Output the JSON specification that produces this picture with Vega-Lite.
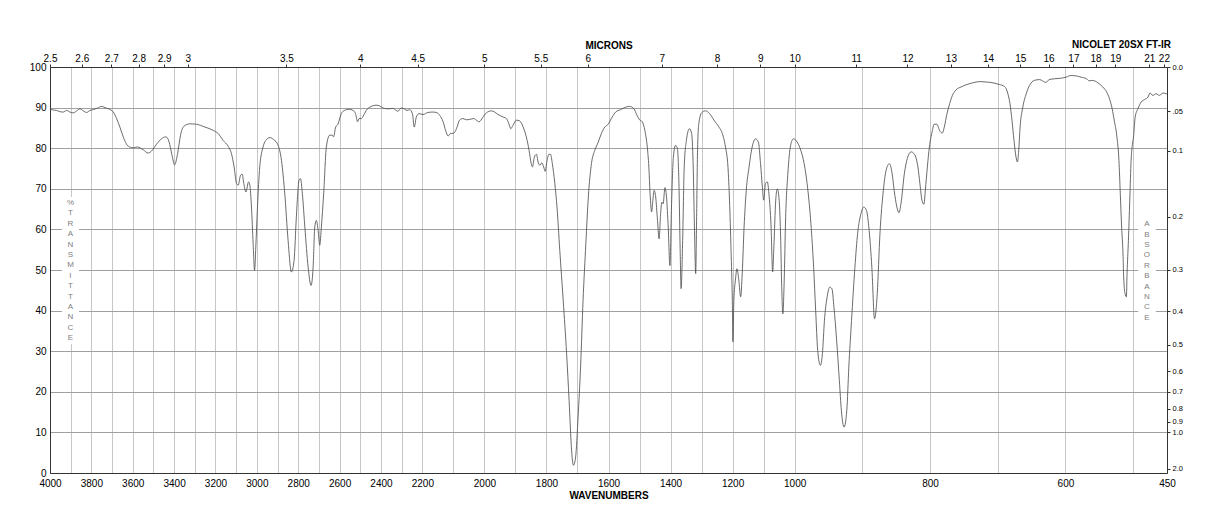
{
  "$schema": "https://vega.github.io/schema/vega-lite/v6.json",
  "width": 1117,
  "height": 406,
  "autosize": {"type": "none"},
  "padding": {"left": 50, "top": 67, "right": 51, "bottom": 55},
  "background": "white",
  "title": {"text": "NICOLET 20SX FT-IR", "anchor": "end", "frame": "group", "fontSize": 10, "fontWeight": "bold", "font": "Liberation Sans", "color": "#000", "offset": 0, "dy": 10, "dx": 4},
  "config": {"view": {"stroke": null}, "font": "Liberation Sans"},
  "datasets": {
    "spectrum": [
      {"wn": 4000, "t": 89.6}, {"wn": 3984, "t": 89.4}, {"wn": 3968, "t": 89.3}, {"wn": 3952, "t": 89.0}, {"wn": 3936, "t": 88.9}, {"wn": 3920, "t": 89.3}, {"wn": 3904, "t": 88.9}, {"wn": 3887, "t": 88.7}, {"wn": 3871, "t": 89.2}, {"wn": 3855, "t": 89.7}, {"wn": 3839, "t": 89.2}, {"wn": 3823, "t": 88.8}, {"wn": 3807, "t": 89.3}, {"wn": 3791, "t": 89.5}, {"wn": 3770, "t": 89.9}, {"wn": 3750, "t": 90.3}, {"wn": 3734, "t": 90.0}, {"wn": 3718, "t": 89.7}, {"wn": 3694, "t": 88.9}, {"wn": 3678, "t": 87.3}, {"wn": 3662, "t": 85.2}, {"wn": 3646, "t": 82.8}, {"wn": 3622, "t": 80.5}, {"wn": 3598, "t": 80.1}, {"wn": 3578, "t": 80.3}, {"wn": 3549, "t": 79.6}, {"wn": 3525, "t": 78.8}, {"wn": 3509, "t": 79.3}, {"wn": 3485, "t": 81.0}, {"wn": 3461, "t": 82.3}, {"wn": 3440, "t": 82.8}, {"wn": 3424, "t": 81.5}, {"wn": 3411, "t": 78.5}, {"wn": 3398, "t": 75.9}, {"wn": 3383, "t": 78.7}, {"wn": 3369, "t": 83.2}, {"wn": 3353, "t": 85.4}, {"wn": 3324, "t": 86.0}, {"wn": 3292, "t": 85.9}, {"wn": 3251, "t": 85.2}, {"wn": 3211, "t": 84.4}, {"wn": 3187, "t": 83.6}, {"wn": 3163, "t": 81.9}, {"wn": 3139, "t": 80.5}, {"wn": 3123, "t": 78.7}, {"wn": 3110, "t": 75.4}, {"wn": 3098, "t": 71.3}, {"wn": 3090, "t": 70.9}, {"wn": 3079, "t": 73.3}, {"wn": 3071, "t": 73.6}, {"wn": 3063, "t": 71.3}, {"wn": 3053, "t": 69.2}, {"wn": 3040, "t": 71.7}, {"wn": 3034, "t": 70.9}, {"wn": 3026, "t": 65.5}, {"wn": 3018, "t": 56.5}, {"wn": 3011, "t": 49.9}, {"wn": 3005, "t": 55.7}, {"wn": 2997, "t": 65.5}, {"wn": 2986, "t": 75.4}, {"wn": 2970, "t": 80.3}, {"wn": 2954, "t": 82.1}, {"wn": 2937, "t": 82.6}, {"wn": 2918, "t": 82.1}, {"wn": 2897, "t": 80.7}, {"wn": 2881, "t": 77.0}, {"wn": 2865, "t": 68.8}, {"wn": 2849, "t": 57.3}, {"wn": 2833, "t": 49.5}, {"wn": 2820, "t": 52.4}, {"wn": 2809, "t": 63.1}, {"wn": 2796, "t": 72.1}, {"wn": 2789, "t": 72.5}, {"wn": 2780, "t": 68.8}, {"wn": 2768, "t": 60.6}, {"wn": 2752, "t": 50.7}, {"wn": 2738, "t": 46.2}, {"wn": 2728, "t": 50.7}, {"wn": 2720, "t": 60.6}, {"wn": 2712, "t": 62.2}, {"wn": 2704, "t": 59.8}, {"wn": 2696, "t": 56.1}, {"wn": 2688, "t": 60.6}, {"wn": 2677, "t": 68.8}, {"wn": 2664, "t": 80.3}, {"wn": 2648, "t": 83.2}, {"wn": 2635, "t": 83.2}, {"wn": 2629, "t": 82.8}, {"wn": 2619, "t": 85.2}, {"wn": 2608, "t": 85.9}, {"wn": 2592, "t": 88.5}, {"wn": 2576, "t": 89.3}, {"wn": 2555, "t": 89.6}, {"wn": 2535, "t": 89.3}, {"wn": 2523, "t": 88.5}, {"wn": 2513, "t": 86.5}, {"wn": 2506, "t": 87.3}, {"wn": 2495, "t": 87.3}, {"wn": 2487, "t": 87.8}, {"wn": 2471, "t": 89.3}, {"wn": 2447, "t": 90.3}, {"wn": 2423, "t": 90.6}, {"wn": 2406, "t": 90.4}, {"wn": 2390, "t": 89.9}, {"wn": 2366, "t": 89.7}, {"wn": 2342, "t": 89.8}, {"wn": 2326, "t": 89.3}, {"wn": 2318, "t": 89.1}, {"wn": 2302, "t": 89.9}, {"wn": 2285, "t": 89.6}, {"wn": 2274, "t": 89.3}, {"wn": 2261, "t": 89.5}, {"wn": 2248, "t": 88.5}, {"wn": 2239, "t": 85.2}, {"wn": 2229, "t": 87.7}, {"wn": 2216, "t": 88.5}, {"wn": 2198, "t": 88.3}, {"wn": 2182, "t": 88.8}, {"wn": 2166, "t": 88.9}, {"wn": 2155, "t": 88.8}, {"wn": 2144, "t": 88.1}, {"wn": 2133, "t": 86.5}, {"wn": 2125, "t": 84.4}, {"wn": 2117, "t": 83.0}, {"wn": 2110, "t": 83.6}, {"wn": 2099, "t": 83.7}, {"wn": 2090, "t": 84.8}, {"wn": 2080, "t": 86.9}, {"wn": 2069, "t": 87.3}, {"wn": 2058, "t": 87.0}, {"wn": 2047, "t": 87.1}, {"wn": 2034, "t": 87.3}, {"wn": 2026, "t": 86.9}, {"wn": 2017, "t": 86.5}, {"wn": 2006, "t": 87.5}, {"wn": 1994, "t": 88.7}, {"wn": 1977, "t": 89.2}, {"wn": 1967, "t": 88.9}, {"wn": 1956, "t": 88.3}, {"wn": 1940, "t": 87.7}, {"wn": 1929, "t": 87.3}, {"wn": 1921, "t": 86.0}, {"wn": 1915, "t": 84.8}, {"wn": 1908, "t": 85.6}, {"wn": 1897, "t": 86.9}, {"wn": 1886, "t": 86.7}, {"wn": 1875, "t": 85.2}, {"wn": 1865, "t": 82.8}, {"wn": 1856, "t": 79.5}, {"wn": 1849, "t": 76.2}, {"wn": 1845, "t": 75.4}, {"wn": 1839, "t": 77.8}, {"wn": 1832, "t": 78.5}, {"wn": 1827, "t": 76.6}, {"wn": 1821, "t": 75.8}, {"wn": 1815, "t": 76.4}, {"wn": 1809, "t": 75.4}, {"wn": 1804, "t": 74.3}, {"wn": 1798, "t": 77.0}, {"wn": 1792, "t": 78.5}, {"wn": 1787, "t": 78.5}, {"wn": 1781, "t": 76.2}, {"wn": 1773, "t": 71.3}, {"wn": 1766, "t": 65.5}, {"wn": 1757, "t": 54.8}, {"wn": 1746, "t": 42.5}, {"wn": 1735, "t": 29.4}, {"wn": 1727, "t": 17.9}, {"wn": 1719, "t": 5.6}, {"wn": 1713, "t": 1.9}, {"wn": 1706, "t": 3.9}, {"wn": 1698, "t": 13.8}, {"wn": 1690, "t": 26.1}, {"wn": 1682, "t": 42.5}, {"wn": 1673, "t": 56.5}, {"wn": 1665, "t": 68.0}, {"wn": 1655, "t": 76.2}, {"wn": 1644, "t": 79.5}, {"wn": 1633, "t": 81.5}, {"wn": 1623, "t": 83.6}, {"wn": 1612, "t": 85.2}, {"wn": 1601, "t": 85.9}, {"wn": 1588, "t": 87.7}, {"wn": 1577, "t": 88.9}, {"wn": 1561, "t": 89.5}, {"wn": 1545, "t": 90.1}, {"wn": 1532, "t": 90.3}, {"wn": 1518, "t": 89.7}, {"wn": 1508, "t": 88.1}, {"wn": 1500, "t": 87.0}, {"wn": 1491, "t": 86.5}, {"wn": 1483, "t": 84.4}, {"wn": 1475, "t": 80.3}, {"wn": 1470, "t": 75.4}, {"wn": 1466, "t": 68.8}, {"wn": 1461, "t": 64.3}, {"wn": 1457, "t": 67.2}, {"wn": 1453, "t": 69.6}, {"wn": 1448, "t": 68.0}, {"wn": 1442, "t": 62.2}, {"wn": 1437, "t": 57.7}, {"wn": 1432, "t": 63.9}, {"wn": 1428, "t": 66.7}, {"wn": 1424, "t": 66.3}, {"wn": 1418, "t": 70.3}, {"wn": 1414, "t": 68.8}, {"wn": 1408, "t": 61.4}, {"wn": 1402, "t": 51.1}, {"wn": 1397, "t": 65.5}, {"wn": 1391, "t": 77.8}, {"wn": 1384, "t": 80.7}, {"wn": 1378, "t": 79.9}, {"wn": 1373, "t": 71.3}, {"wn": 1369, "t": 54.8}, {"wn": 1366, "t": 45.4}, {"wn": 1361, "t": 57.3}, {"wn": 1356, "t": 75.4}, {"wn": 1349, "t": 81.9}, {"wn": 1339, "t": 84.8}, {"wn": 1332, "t": 83.6}, {"wn": 1327, "t": 75.4}, {"wn": 1323, "t": 60.6}, {"wn": 1319, "t": 49.1}, {"wn": 1316, "t": 63.1}, {"wn": 1313, "t": 79.5}, {"wn": 1309, "t": 86.0}, {"wn": 1300, "t": 88.7}, {"wn": 1287, "t": 89.2}, {"wn": 1274, "t": 88.5}, {"wn": 1260, "t": 86.9}, {"wn": 1244, "t": 85.2}, {"wn": 1233, "t": 83.6}, {"wn": 1223, "t": 80.3}, {"wn": 1215, "t": 75.4}, {"wn": 1210, "t": 67.2}, {"wn": 1205, "t": 54.8}, {"wn": 1201, "t": 42.5}, {"wn": 1199, "t": 32.3}, {"wn": 1196, "t": 42.5}, {"wn": 1191, "t": 47.5}, {"wn": 1186, "t": 50.3}, {"wn": 1180, "t": 47.5}, {"wn": 1174, "t": 43.4}, {"wn": 1169, "t": 49.1}, {"wn": 1163, "t": 60.6}, {"wn": 1156, "t": 69.6}, {"wn": 1147, "t": 75.4}, {"wn": 1137, "t": 80.3}, {"wn": 1126, "t": 82.3}, {"wn": 1117, "t": 81.5}, {"wn": 1110, "t": 76.2}, {"wn": 1104, "t": 70.4}, {"wn": 1100, "t": 67.2}, {"wn": 1094, "t": 71.3}, {"wn": 1088, "t": 71.7}, {"wn": 1083, "t": 68.8}, {"wn": 1076, "t": 60.6}, {"wn": 1071, "t": 49.5}, {"wn": 1067, "t": 55.7}, {"wn": 1061, "t": 67.2}, {"wn": 1056, "t": 70.0}, {"wn": 1050, "t": 67.2}, {"wn": 1045, "t": 57.3}, {"wn": 1042, "t": 46.6}, {"wn": 1038, "t": 39.2}, {"wn": 1034, "t": 46.6}, {"wn": 1029, "t": 63.1}, {"wn": 1022, "t": 73.7}, {"wn": 1013, "t": 80.7}, {"wn": 1004, "t": 82.3}, {"wn": 998, "t": 81.9}, {"wn": 991, "t": 79.5}, {"wn": 986, "t": 76.2}, {"wn": 981, "t": 70.4}, {"wn": 976, "t": 61.4}, {"wn": 972, "t": 50.7}, {"wn": 969, "t": 40.1}, {"wn": 966, "t": 30.2}, {"wn": 962, "t": 26.5}, {"wn": 959, "t": 29.4}, {"wn": 956, "t": 37.6}, {"wn": 952, "t": 43.4}, {"wn": 948, "t": 45.8}, {"wn": 945, "t": 45.4}, {"wn": 942, "t": 40.9}, {"wn": 938, "t": 32.7}, {"wn": 934, "t": 22.8}, {"wn": 931, "t": 15.4}, {"wn": 927, "t": 11.3}, {"wn": 923, "t": 15.4}, {"wn": 920, "t": 26.1}, {"wn": 916, "t": 37.6}, {"wn": 911, "t": 50.7}, {"wn": 907, "t": 59.0}, {"wn": 902, "t": 63.9}, {"wn": 898, "t": 65.5}, {"wn": 894, "t": 64.7}, {"wn": 890, "t": 59.8}, {"wn": 886, "t": 50.7}, {"wn": 882, "t": 38.0}, {"wn": 878, "t": 44.2}, {"wn": 874, "t": 59.0}, {"wn": 869, "t": 69.6}, {"wn": 865, "t": 74.5}, {"wn": 860, "t": 76.2}, {"wn": 856, "t": 73.7}, {"wn": 853, "t": 69.6}, {"wn": 849, "t": 65.5}, {"wn": 846, "t": 64.1}, {"wn": 843, "t": 66.3}, {"wn": 838, "t": 73.7}, {"wn": 833, "t": 77.8}, {"wn": 828, "t": 79.1}, {"wn": 823, "t": 78.5}, {"wn": 818, "t": 75.4}, {"wn": 815, "t": 71.3}, {"wn": 812, "t": 67.2}, {"wn": 809, "t": 66.2}, {"wn": 807, "t": 69.6}, {"wn": 804, "t": 75.4}, {"wn": 801, "t": 80.3}, {"wn": 797, "t": 84.0}, {"wn": 794, "t": 85.9}, {"wn": 790, "t": 85.9}, {"wn": 786, "t": 84.4}, {"wn": 782, "t": 83.7}, {"wn": 779, "t": 85.2}, {"wn": 775, "t": 88.5}, {"wn": 771, "t": 91.0}, {"wn": 767, "t": 93.0}, {"wn": 762, "t": 94.3}, {"wn": 754, "t": 95.1}, {"wn": 747, "t": 95.6}, {"wn": 737, "t": 96.1}, {"wn": 727, "t": 96.4}, {"wn": 717, "t": 96.3}, {"wn": 707, "t": 96.1}, {"wn": 698, "t": 95.7}, {"wn": 690, "t": 95.2}, {"wn": 685, "t": 93.4}, {"wn": 682, "t": 91.0}, {"wn": 679, "t": 86.9}, {"wn": 676, "t": 81.9}, {"wn": 673, "t": 77.8}, {"wn": 671, "t": 76.6}, {"wn": 669, "t": 79.5}, {"wn": 667, "t": 85.2}, {"wn": 663, "t": 90.1}, {"wn": 658, "t": 93.4}, {"wn": 653, "t": 95.5}, {"wn": 646, "t": 96.7}, {"wn": 638, "t": 96.9}, {"wn": 634, "t": 96.6}, {"wn": 629, "t": 96.2}, {"wn": 624, "t": 96.9}, {"wn": 616, "t": 97.1}, {"wn": 609, "t": 97.2}, {"wn": 604, "t": 97.3}, {"wn": 599, "t": 97.5}, {"wn": 592, "t": 97.9}, {"wn": 584, "t": 97.8}, {"wn": 577, "t": 97.5}, {"wn": 569, "t": 97.1}, {"wn": 565, "t": 96.6}, {"wn": 560, "t": 96.7}, {"wn": 552, "t": 96.1}, {"wn": 545, "t": 95.1}, {"wn": 539, "t": 93.8}, {"wn": 535, "t": 92.2}, {"wn": 531, "t": 89.7}, {"wn": 528, "t": 86.9}, {"wn": 524, "t": 82.8}, {"wn": 521, "t": 77.0}, {"wn": 519, "t": 68.8}, {"wn": 517, "t": 60.6}, {"wn": 515, "t": 54.0}, {"wn": 514, "t": 48.3}, {"wn": 512, "t": 44.2}, {"wn": 510, "t": 43.4}, {"wn": 509, "t": 49.1}, {"wn": 507, "t": 57.3}, {"wn": 505, "t": 67.2}, {"wn": 503, "t": 77.0}, {"wn": 499, "t": 83.6}, {"wn": 497, "t": 87.7}, {"wn": 493, "t": 89.7}, {"wn": 488, "t": 91.4}, {"wn": 483, "t": 92.0}, {"wn": 478, "t": 92.6}, {"wn": 475, "t": 93.6}, {"wn": 471, "t": 93.0}, {"wn": 466, "t": 93.4}, {"wn": 461, "t": 93.0}, {"wn": 456, "t": 93.6}, {"wn": 451, "t": 93.4}, {"wn": 450, "t": 93.3}
    ],
    "bands": [
      {"x1": 3942, "x2": 3860, "y1": 68.0, "y2": 31.8},
      {"x1": 492.5, "x2": 466.5, "y1": 62.8, "y2": 36.7}
    ],
    "notes": [
      {"wn": 3901, "t": 66.5, "label": "%\nT\nR\nA\nN\nS\nM\nI\nT\nT\nA\nN\nC\nE"},
      {"wn": 479.6, "t": 61.3, "label": "A\nB\nS\nO\nR\nB\nA\nN\nC\nE"}
    ]
  },
  "layer": [
    {
      "data": {"name": "bands"},
      "mark": {"type": "rect", "fill": "white", "stroke": null},
      "encoding": {
        "x": {"field": "x1", "type": "quantitative", "scale": {"domain": [4000, 2200, 1000, 450], "range": [0, 372.333, 744.667, 1117], "zero": false, "nice": false}, "axis": null},
        "x2": {"field": "x2"},
        "y": {"field": "y1", "type": "quantitative", "scale": {"domain": [0, 100], "zero": false, "nice": false}, "axis": null},
        "y2": {"field": "y2"}
      }
    },
    {
      "data": {"name": "spectrum"},
      "mark": {"type": "line", "color": "#505050", "strokeWidth": 0.85, "interpolate": "monotone"},
      "encoding": {
        "x": {
          "field": "wn", "type": "quantitative",
          "scale": {"domain": [4000, 2200, 1000, 450], "range": [0, 372.333, 744.667, 1117], "zero": false, "nice": false},
          "axis": {
            "orient": "bottom",
            "values": [4000, 3900, 3800, 3700, 3600, 3500, 3400, 3300, 3200, 3100, 3000, 2900, 2800, 2700, 2600, 2500, 2400, 2300, 2200, 2100, 2000, 1900, 1800, 1700, 1600, 1500, 1400, 1300, 1200, 1100, 1000, 900, 800, 700, 600, 500, 450],
            "format": "d",
            "labelExpr": "((datum.value % 200 == 0) && datum.value >= 600) || datum.value == 450 ? datum.label : ''",
            "grid": true, "gridColor": "#c6c6c6", "gridWidth": 1,
            "ticks": false, "domainColor": "#333333", "domainWidth": 1,
            "labelFontSize": 10, "labelColor": "#000000", "labelPadding": 5, "labelFlush": false, "labelOverlap": false,
            "title": "WAVENUMBERS", "titleFontSize": 10, "titleFontWeight": "bold", "titleColor": "#000000", "titlePadding": 2
          }
        },
        "y": {
          "field": "t", "type": "quantitative",
          "scale": {"domain": [0, 100], "zero": false, "nice": false},
          "axis": {
            "orient": "left",
            "values": [0, 10, 20, 30, 40, 50, 60, 70, 80, 90, 100],
            "grid": true, "gridColor": "#a0a0a0", "gridWidth": 1,
            "ticks": false, "domainColor": "#333333", "domainWidth": 1,
            "labelFontSize": 10, "labelColor": "#000000", "labelPadding": 4, "labelFlush": false, "labelOverlap": false,
            "title": null
          }
        }
      }
    },
    {
      "data": {"name": "spectrum"},
      "mark": {"type": "line", "opacity": 0},
      "encoding": {
        "x": {
          "field": "wn", "type": "quantitative",
          "scale": {"domain": [4000, 2200, 1000, 450], "range": [0, 372.333, 744.667, 1117], "zero": false, "nice": false},
          "axis": {
            "orient": "top",
            "values": [4000, 3846.1538, 3703.7037, 3571.4286, 3448.2759, 3333.3333, 2857.1429, 2500, 2222.2222, 2000, 1818.1818, 1666.6667, 1428.5714, 1250, 1111.1111, 1000, 909.0909, 833.3333, 769.2308, 714.2857, 666.6667, 625, 588.2353, 555.5556, 526.3158, 476.1905, 454.5455],
            "labelExpr": "format(10000 / datum.value, '.2~f')",
            "grid": false,
            "ticks": true, "tickSize": 3, "tickColor": "#333333", "domainColor": "#333333", "domainWidth": 1,
            "labelFontSize": 10, "labelColor": "#000000", "labelPadding": 1, "labelFlush": false, "labelOverlap": false,
            "title": "MICRONS", "titleFontSize": 10, "titleFontWeight": "bold", "titleColor": "#000000", "titlePadding": 3
          }
        },
        "y": {
          "field": "t", "type": "quantitative",
          "scale": {"domain": [0, 100], "zero": false, "nice": false},
          "axis": {
            "orient": "right",
            "values": [100, 89.1251, 79.4328, 63.0957, 50.1187, 39.8107, 31.6228, 25.1189, 19.9526, 15.8489, 12.5893, 10, 1],
            "labelExpr": "datum.value > 99 ? '0.0' : (datum.value > 85 ? '.05' : format(-log(datum.value / 100) / LN10, '.1f'))",
            "grid": false,
            "ticks": true, "tickSize": 3, "tickColor": "#333333", "domainColor": "#333333", "domainWidth": 1,
            "labelFontSize": 7.5, "labelColor": "#000000", "labelPadding": 2, "labelFlush": false, "labelOverlap": false,
            "title": null
          }
        }
      }
    },
    {
      "data": {"name": "notes"},
      "mark": {"type": "text", "fontSize": 8, "fill": "#808080", "lineHeight": 10.4, "lineBreak": "\n", "baseline": "middle", "align": "center"},
      "encoding": {
        "x": {"field": "wn", "type": "quantitative", "scale": {"domain": [4000, 2200, 1000, 450], "range": [0, 372.333, 744.667, 1117], "zero": false, "nice": false}, "axis": null},
        "y": {"field": "t", "type": "quantitative", "scale": {"domain": [0, 100], "zero": false, "nice": false}, "axis": null},
        "text": {"field": "label"}
      }
    }
  ],
  "resolve": {"axis": {"x": "independent", "y": "independent"}}
}
